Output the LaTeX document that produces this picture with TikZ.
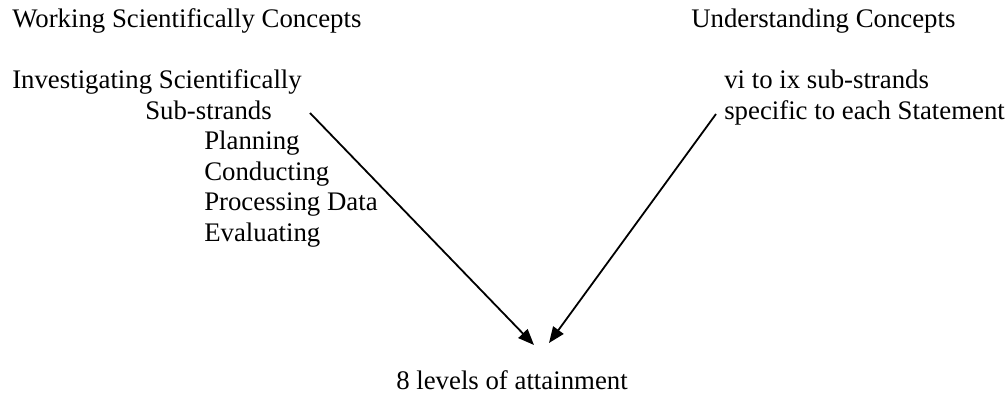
\documentclass[tikz,border=0pt]{standalone}
\usepackage{fontspec}
\setmainfont{Liberation Serif}
\usetikzlibrary{arrows.meta}
\tikzset{
  txt/.style={anchor=base west, inner sep=0pt, font=\fontsize{20.1}{24}\selectfont},
  link/.style={line width=1.35pt, -{Triangle[length=12pt,width=9.5pt]}}
}
\begin{document}
\begin{tikzpicture}[x=0.75pt, y=-0.75pt]
  \useasboundingbox (0,0) rectangle (1006,402);
  % left column: working scientifically
  \node[txt] (wsc) at (12,28) {Working Scientifically Concepts};
  \node[txt] (inv) at (12,89) {Investigating Scientifically};
  \node[txt] (sub) at (145,119.5) {Sub-strands};
  \node[txt] (pla) at (204,150) {Planning};
  \node[txt] (con) at (204,180.5) {Conducting};
  \node[txt] (pro) at (204,211) {Processing Data};
  \node[txt] (eva) at (204,241.5) {Evaluating};
  % right column: understanding concepts
  \node[txt] (und) at (691,28) {Understanding Concepts};
  \node[txt] (vix) at (724,89) {vi to ix sub-strands};
  \node[txt] (spe) at (724,119.5) {specific to each Statement};
  % result
  \node[txt] (lev) at (396,389) {8 levels of attainment};
  % connector ends
  \coordinate (ls) at (310,113);
  \coordinate (lt) at (534,345);
  \coordinate (rs) at (716,114);
  \coordinate (rt) at (549,343);
  \draw[link] (ls) -- (lt);
  \draw[link] (rs) -- (rt);
\end{tikzpicture}
\end{document}
